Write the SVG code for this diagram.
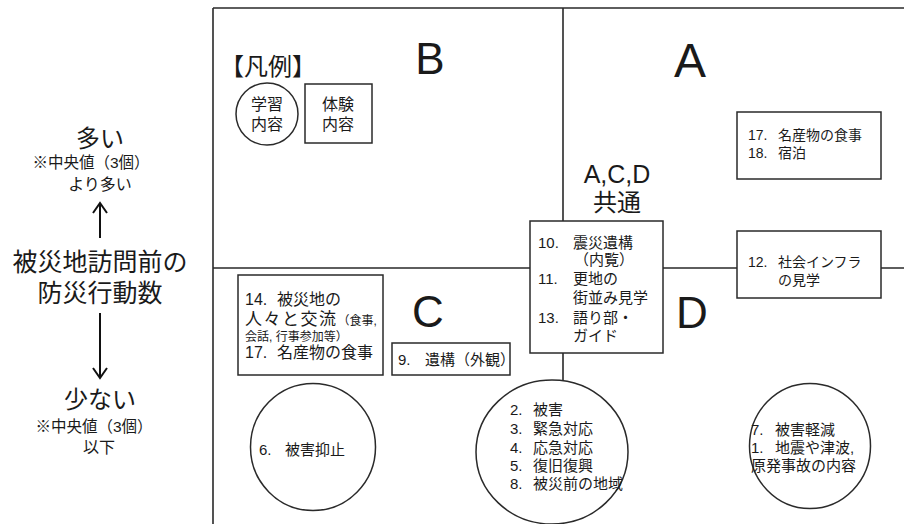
<svg xmlns="http://www.w3.org/2000/svg" width="904" height="524" viewBox="0 0 904 524">
<style>
text{font-family:"Liberation Sans","Noto Sans CJK JP",sans-serif;fill:#1a1a1a}
.ln{stroke:#2a2a2a;stroke-width:1.6;fill:none}
.bx{stroke:#2a2a2a;stroke-width:1.5;fill:#fff}
.ar{stroke:#111;stroke-width:2;fill:none}
.big{font-size:44px}
.t15{font-size:15px}
.t14{font-size:14px}
.note{font-size:15.5px}
.mid{text-anchor:middle}
</style>
<rect width="904" height="524" fill="#fff"/>
<g id="grid">
<path class="ln" d="M213 8H904M213 8V524M563 8V524M213 268H904"/>
</g>
<g id="quadrant-labels">
<text class="big mid" x="430" y="74">B</text>
<text class="mid" x="690" y="77" style="font-size:48px">A</text>
<text class="big mid" x="428" y="327">C</text>
<text class="big mid" x="692" y="328">D</text>
</g>
<g id="axis-label">
<text class="mid" x="100" y="147" style="font-size:24px">多い</text>
<text class="mid note" x="91" y="168">※中央値（3個）</text>
<text class="mid" x="100" y="190" style="font-size:16px">より多い</text>
<text class="mid" x="100" y="271" style="font-size:25px">被災地訪問前の</text>
<text class="mid" x="100" y="302" style="font-size:25px">防災行動数</text>
<text class="mid" x="100" y="408" style="font-size:24px">少ない</text>
<text class="mid note" x="94" y="432">※中央値（3個）</text>
<text class="mid" x="99" y="453" style="font-size:16px">以下</text>
</g>
<g id="connectors">
<path class="ar" d="M100 238V203M93 213L100 203L107 213"/>
<path class="ar" d="M100 313V378M93 368L100 378L107 368"/>
</g>
<g id="legend">
<text x="268" y="75" class="mid" style="font-size:24px">【凡例】</text>
<circle class="bx" cx="267" cy="114" r="31"/>
<text class="mid" x="267" y="110" style="font-size:16px">学習</text>
<text class="mid" x="267" y="130" style="font-size:16px">内容</text>
<rect class="bx" x="305" y="84" width="67" height="59"/>
<text class="mid" x="338" y="110" style="font-size:16px">体験</text>
<text class="mid" x="338" y="130" style="font-size:16px">内容</text>
</g>
<g id="common-label">
<text class="mid" x="617" y="183" style="font-size:25px">A,C,D</text>
<text class="mid" x="617" y="211" style="font-size:24px">共通</text>
</g>
<g id="box-a">
<rect class="bx" x="737" y="112" width="144" height="67"/>
<text class="t14" y="140"><tspan x="748">17.</tspan><tspan x="778">名産物の食事</tspan></text>
<text class="t14" y="158"><tspan x="748">18.</tspan><tspan x="778">宿泊</tspan></text>
</g>
<g id="box-common">
<rect class="bx" x="530" y="221" width="133" height="132"/>
<text class="t15" y="248"><tspan x="538">10.</tspan><tspan x="573">震災遺構</tspan></text>
<text class="t15" x="574" y="265">（内覧）</text>
<text class="t15" y="284"><tspan x="538">11.</tspan><tspan x="573">更地の</tspan></text>
<text class="t15" x="573" y="303">街並み見学</text>
<text class="t15" y="323"><tspan x="538">13.</tspan><tspan x="573">語り部・</tspan></text>
<text class="t15" x="573" y="341">ガイド</text>
</g>
<g id="box-d">
<rect class="bx" x="737" y="231" width="144" height="67"/>
<text class="t14" y="267"><tspan x="748">12.</tspan><tspan x="778">社会インフラ</tspan></text>
<text class="t14" x="778" y="285">の見学</text>
</g>
<g id="box-c">
<rect class="bx" x="238" y="275" width="145" height="100"/>
<text style="font-size:16px" y="305"><tspan x="245">14.</tspan><tspan x="277">被災地の</tspan></text>
<text y="325"><tspan x="245" style="font-size:17px;letter-spacing:1.5px">人々と交流</tspan><tspan style="font-size:12px">（食事,</tspan></text>
<text x="245" y="341" style="font-size:12px">会話, 行事参加等）</text>
<text style="font-size:16px" y="358"><tspan x="245">17.</tspan><tspan x="277">名産物の食事</tspan></text>
</g>
<g id="box-9">
<rect class="bx" x="392" y="343" width="118" height="32"/>
<text class="t15" y="365"><tspan x="398">9.</tspan><tspan x="425">遺構（外観）</tspan></text>
</g>
<g id="circle-6">
<ellipse class="bx" cx="313" cy="447" rx="62.5" ry="63.5"/>
<text class="t15" y="455"><tspan x="259">6.</tspan><tspan x="285">被害抑止</tspan></text>
</g>
<g id="circle-mid">
<ellipse class="bx" cx="552" cy="452" rx="76" ry="72"/>
<text class="t15" y="415"><tspan x="510">2.</tspan><tspan x="533">被害</tspan></text>
<text class="t15" y="434"><tspan x="510">3.</tspan><tspan x="533">緊急対応</tspan></text>
<text class="t15" y="453"><tspan x="510">4.</tspan><tspan x="533">応急対応</tspan></text>
<text class="t15" y="471"><tspan x="510">5.</tspan><tspan x="533">復旧復興</tspan></text>
<text class="t15" y="489"><tspan x="510">8.</tspan><tspan x="533">被災前の地域</tspan></text>
</g>
<g id="circle-d">
<ellipse class="bx" cx="810" cy="446" rx="60.5" ry="62.5"/>
<text class="t15" y="435"><tspan x="751">7.</tspan><tspan x="775">被害軽減</tspan></text>
<text class="t15" y="453"><tspan x="751">1.</tspan><tspan x="775">地震や津波,</tspan></text>
<text class="t15" x="751" y="471">原発事故の内容</text>
</g>
</svg>
